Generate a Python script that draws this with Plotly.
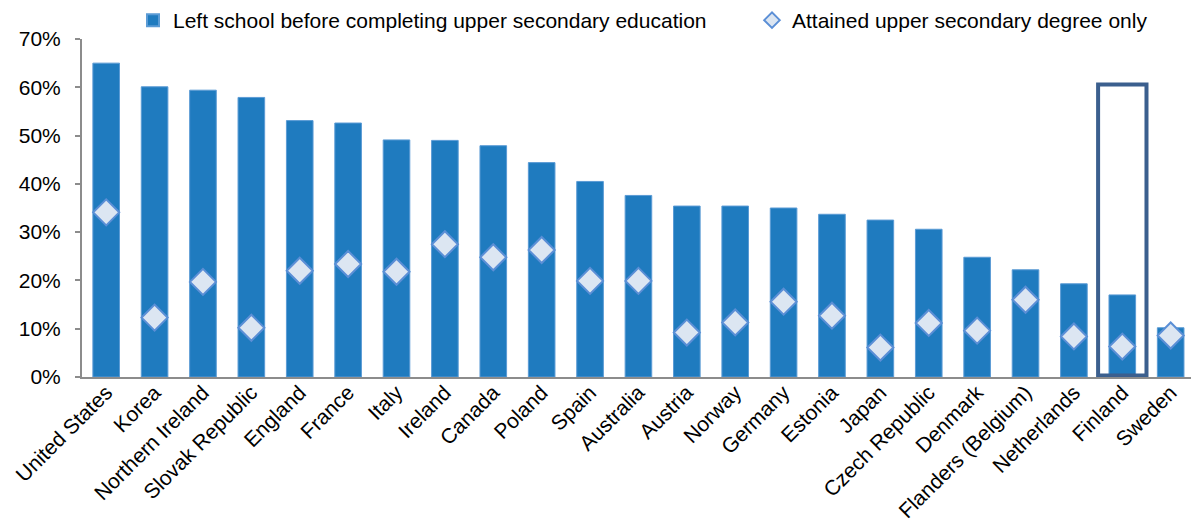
import plotly.graph_objects as go

countries = ["United States", "Korea", "Northern Ireland", "Slovak Republic", "England",
             "France", "Italy", "Ireland", "Canada", "Poland", "Spain", "Australia",
             "Austria", "Norway", "Germany", "Estonia", "Japan", "Czech Republic",
             "Denmark", "Flanders (Belgium)", "Netherlands", "Finland", "Sweden"]
left_school = [65.0, 60.1, 59.4, 57.9, 53.1, 52.6, 49.1, 49.0, 47.9, 44.4, 40.5, 37.6,
               35.4, 35.4, 35.0, 33.7, 32.5, 30.6, 24.8, 22.2, 19.3, 17.0, 10.2]
upper_secondary = [34.1, 12.3, 19.7, 10.2, 22.0, 23.4, 21.8, 27.5, 24.8, 26.3, 19.9, 19.9,
                   9.2, 11.3, 15.6, 12.7, 6.1, 11.2, 9.6, 16.0, 8.4, 6.3, 8.6]
y_ticks = [0, 10, 20, 30, 40, 50, 60, 70]
y_ticklabels = [f"{v}%" for v in y_ticks]
highlight = "Finland"
highlight_top = 60.6

W, H = 1191, 522
FONT = "Liberation Sans, Arial, sans-serif"

fig = go.Figure()
fig.add_trace(go.Bar(
    x=countries, y=left_school,
    name="Left school before completing upper secondary education",
    marker=dict(color="#1F7BBF", line=dict(color="#5B9BD5", width=1)),
    width=0.55, legend="legend", showlegend=True,
))
fig.add_trace(go.Scatter(
    x=countries, y=upper_secondary, mode="markers",
    name="Attained upper secondary degree only",
    marker=dict(symbol="diamond", size=20, color="#DCE6F2",
                line=dict(color="#5B8FD6", width=2)),
    legend="legend2", showlegend=True,
))

hi = countries.index(highlight)
fig.add_shape(type="rect", xref="x", yref="y",
              x0=hi - 0.5, x1=hi + 0.5, y0=0.3, y1=highlight_top,
              line=dict(color="#3B5F8E", width=4), fillcolor="rgba(0,0,0,0)")

fig.update_layout(
    width=W, height=H,
    showlegend=True,
    margin=dict(l=82, r=0, t=39, b=144.5, autoexpand=False),
    paper_bgcolor="white", plot_bgcolor="white",
    font=dict(family=FONT, size=21, color="#000000"),
    bargap=0.45,
    legend=dict(xref="container", yref="container", x=133 / W, y=1 - 20.5 / H,
                xanchor="left", yanchor="middle", orientation="h",
                font=dict(size=21), bgcolor="rgba(0,0,0,0)",
                itemsizing="constant"),
    legend2=dict(xref="container", yref="container", x=752 / W, y=1 - 20.5 / H,
                 xanchor="left", yanchor="middle", orientation="h",
                 font=dict(size=21), bgcolor="rgba(0,0,0,0)",
                 itemsizing="constant"),
    xaxis=dict(type="category", range=[-0.5, 22.42], tickangle=-45,
               showline=True, linecolor="#8C8C8C", linewidth=2, ticks="",
               ticklabelstandoff=-7,
               showgrid=False, automargin=False, tickfont=dict(size=21)),
    yaxis=dict(range=[0, 70], tickvals=y_ticks, ticktext=y_ticklabels,
               showline=True, linecolor="#8C8C8C", linewidth=2,
               ticks="outside", ticklen=5, tickcolor="#8C8C8C", tickwidth=2,
               ticklabelstandoff=10,
               showgrid=False, zeroline=False, automargin=False,
               tickfont=dict(size=21)),
)

fig.write_html("out.html", config={"displayModeBar": False},
               post_script="document.body.style.margin='0';")
